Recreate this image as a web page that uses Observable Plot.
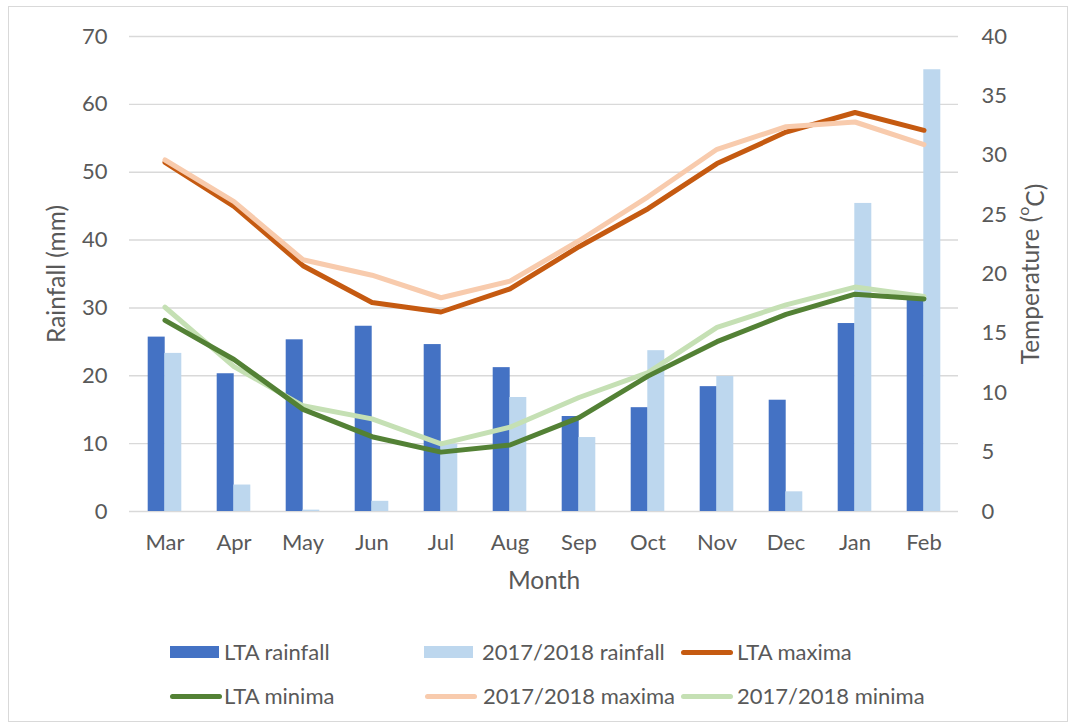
<!DOCTYPE html>
<html>
<head>
<meta charset="utf-8">
<script src="https://cdn.jsdelivr.net/npm/d3@7"></script>
<script src="https://cdn.jsdelivr.net/npm/@observablehq/plot@0.6"></script>
<style>
  html, body { margin: 0; padding: 0; background: #fff; }
  #wrap { position: relative; width: 1072px; height: 726px; overflow: hidden; font-family: Lato, "Open Sans", sans-serif; }
  #border { position: absolute; left: 8px; top: 6px; width: 1060px; height: 716px; border: 1px solid #d9d9d9; box-sizing: border-box; pointer-events: none; }
  #chart { position: absolute; left: 0; top: 0; }
  #legend { position: absolute; left: 0; top: 600px; width: 1072px; height: 126px; color: #595959; font-size: 22px; }
  .sw { position: absolute; }
  .tx { position: absolute; white-space: nowrap; line-height: 1; }
</style>
</head>
<body>
<div id="wrap">
  <div id="chart"></div>
  <div id="legend"></div>
  <div id="border"></div>
</div>
<script>
const months = ["Mar","Apr","May","Jun","Jul","Aug","Sep","Oct","Nov","Dec","Jan","Feb"];
const ltaRainfall = [25.7, 20.3, 25.3, 27.3, 24.6, 21.2, 14.0, 15.3, 18.4, 16.4, 27.7, 31.3];
const rainfall1718 = [23.3, 3.9, 0.2, 1.5, 9.9, 16.8, 10.9, 23.7, 19.9, 2.9, 45.4, 65.1];
const ltaMaxima = [29.4, 25.7, 20.7, 17.6, 16.8, 18.75, 22.3, 25.5, 29.3, 31.95, 33.6, 32.1];
const maxima1718 = [29.6, 26.1, 21.2, 19.9, 18.0, 19.4, 22.8, 26.5, 30.5, 32.4, 32.8, 30.9];
const ltaMinima = [16.1, 12.8, 8.6, 6.3, 5.0, 5.6, 7.9, 11.4, 14.3, 16.6, 18.3, 17.9];
const minima1718 = [17.2, 12.2, 8.9, 7.8, 5.7, 7.1, 9.6, 11.7, 15.5, 17.4, 18.9, 18.1];
const rainTicks = [0, 10, 20, 30, 40, 50, 60, 70];
const tempTicks = [0, 5, 10, 15, 20, 25, 30, 35, 40];

const colors = {
  "LTA rainfall": "#4472C4",
  "2017/2018 rainfall": "#BDD7EE",
  "LTA maxima": "#C55A11",
  "LTA minima": "#538135",
  "2017/2018 maxima": "#F8CBAD",
  "2017/2018 minima": "#C5E0B4"
};

// temperature (0-40) mapped onto the rainfall axis (0-70)
const k = 70 / 40;

const ltaBars = months.map((m, i) => ({month: m, value: ltaRainfall[i]}));
const newBars = months.map((m, i) => ({month: m, value: rainfall1718[i]}));
const lineSeries = [
  ["LTA maxima", ltaMaxima],
  ["2017/2018 maxima", maxima1718],
  ["2017/2018 minima", minima1718],
  ["LTA minima", ltaMinima]
];

const W = 1072, H = 600;
const mL = 129, mR = 114, mT = 36, mB = 89;
const bw = 16.6;
const pad = 1 - bw / ((W - mL - mR) / 12);

const chart = Plot.plot({
  width: W, height: H,
  marginLeft: mL, marginRight: mR, marginTop: mT, marginBottom: mB,
  style: {fontFamily: "Lato, 'Open Sans', sans-serif", fontSize: "22px", color: "#595959", background: "#fff"},
  x: {domain: months, paddingInner: pad, paddingOuter: pad / 2},
  y: {domain: [0, 70]},
  marks: [
    Plot.gridY(rainTicks, {stroke: "#d9d9d9", strokeOpacity: 1, strokeWidth: 1.4}),
    Plot.barY(ltaBars, {x: "month", y: "value", fill: colors["LTA rainfall"], dx: -bw / 2}),
    Plot.barY(newBars, {x: "month", y: "value", fill: colors["2017/2018 rainfall"], dx: bw / 2}),
    ...lineSeries.map(([name, arr]) => Plot.line(months.map((m, i) => ({month: m, t: arr[i]})), {
      x: "month", y: d => d.t * k, stroke: colors[name], strokeWidth: 5, strokeLinejoin: "round", strokeLinecap: "round"
    })),
    Plot.axisX({tickSize: 0, tickPadding: 23, label: "Month", labelAnchor: "center", labelOffset: 77, fontSize: 22}),
    Plot.axisY(rainTicks, {anchor: "left", tickSize: 0, tickPadding: 22, label: "Rainfall (mm)", labelAnchor: "center", labelArrow: false, labelOffset: 82, fontSize: 22}),
    Plot.axisY(tempTicks.map(t => t * k), {anchor: "right", tickSize: 0, tickPadding: 23, tickFormat: v => String(Math.round(v / k)), label: "Temperature (oC)", labelAnchor: "center", labelArrow: false, labelOffset: 80, fontSize: 22})
  ]
});
document.getElementById("chart").appendChild(chart);

// axis titles: larger font, superscript "o" in the temperature label
d3.select(chart).selectAll("text").each(function() {
  const el = d3.select(this);
  const t = el.text();
  if (t === "Month" || t === "Rainfall (mm)" || t === "Temperature (oC)") {
    el.style("font-size", "24.5px");
  }
  if (t === "Temperature (oC)") {
    el.text(null);
    el.append("tspan").text("Temperature (");
    el.append("tspan").style("font-size", "16px").attr("dy", "-0.6em").text("o");
    el.append("tspan").attr("dy", "0.6em").text("C)");
  }
});

// legend
const legendItems = [
  {name: "LTA rainfall", type: "rect", sx: 170, tx: 224, cy: 52},
  {name: "2017/2018 rainfall", type: "rect", sx: 424, tx: 482, cy: 52},
  {name: "LTA maxima", type: "line", sx: 681, tx: 737, cy: 52},
  {name: "LTA minima", type: "line", sx: 170, tx: 224, cy: 96},
  {name: "2017/2018 maxima", type: "line", sx: 425, tx: 483, cy: 96},
  {name: "2017/2018 minima", type: "line", sx: 681, tx: 737, cy: 96}
];
const leg = document.getElementById("legend");
for (const it of legendItems) {
  const sw = document.createElement("div");
  sw.className = "sw";
  sw.style.background = colors[it.name];
  if (it.type === "rect") {
    sw.style.left = it.sx + "px"; sw.style.width = "49px";
    sw.style.top = (it.cy - 6) + "px"; sw.style.height = "12px";
  } else {
    sw.style.left = it.sx + "px"; sw.style.width = "52px";
    sw.style.top = (it.cy - 2.5) + "px"; sw.style.height = "5px"; sw.style.borderRadius = "3px";
  }
  leg.appendChild(sw);
  const tx = document.createElement("div");
  tx.className = "tx";
  tx.style.left = it.tx + "px";
  tx.style.top = (it.cy - 11) + "px";
  tx.textContent = it.name;
  leg.appendChild(tx);
}
</script>
</body>
</html>
